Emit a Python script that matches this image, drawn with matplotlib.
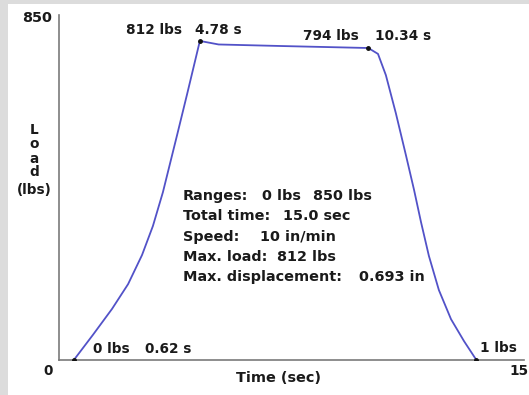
import numpy as np
import matplotlib.pyplot as plt
from matplotlib.patches import Rectangle

# load curve
time_s = [0.62, 1.25, 1.88, 2.41, 2.87, 3.23, 3.56, 4.03, 4.36, 4.78,
          5.40, 7.50, 10.34,
          10.66, 10.92, 11.25, 11.58, 11.85, 12.08, 12.34, 12.67, 13.07, 13.50, 13.90]
load_lbs = [0, 64, 130, 193, 267, 341, 427, 573, 677, 812,
            803, 799, 794,
            779, 725, 628, 522, 433, 351, 265, 178, 104, 48, 1]

key_t = [0.62, 4.78, 10.34, 13.90]
key_load = [0, 812, 794, 1]

info_labels = ["Ranges:", "Total time:", "Speed:", "Max. load:", "Max. displacement:"]
info_values = [["0 lbs", "850 lbs"], ["15.0 sec"], ["10 in/min"], ["812 lbs"], ["0.693 in"]]
info_value_x = [[262, 313], [283], [260], [277], [359]]

W, H = 529, 395
def px(x, y):
    return x / W, 1 - y / H

FONT = dict(fontsize=9.8, fontweight='bold', color='#1a1a1a', family='DejaVu Sans')
BIG = dict(FONT, fontsize=10.4)
LINE = '#5252c8'
AXC = '#7a7a7a'

fig = plt.figure(figsize=(W / 100, H / 100), dpi=100)
fig.patch.set_facecolor('#dcdcdc')
fig.patches.append(Rectangle(px(8, 395), (W - 8) / W, (395 - 4) / H,
                             transform=fig.transFigure, facecolor='white',
                             edgecolor='none', zorder=-10))

l, b = px(59, 360)
r, t = px(524, 15)
ax = fig.add_axes([l, b, r - l, t - b])
ax.set_facecolor('none')
ax.set_xlim(0.13, 15.48)
ax.set_ylim(0, 878)
for side in ['top', 'right']:
    ax.spines[side].set_visible(False)
for side in ['left', 'bottom']:
    ax.spines[side].set_color(AXC)
    ax.spines[side].set_linewidth(1.2)
ax.set_xticks([]); ax.set_yticks([])

ax.plot(time_s, load_lbs, color=LINE, lw=1.3, zorder=3)
ax.plot(key_t, key_load, 'o', color='#111111', ms=2.5, zorder=4)

# point annotations
def note(i, txt, dx, dy, ha):
    ax.annotate(txt, (key_t[i], key_load[i]), xytext=(dx, dy),
                textcoords='offset pixels', ha=ha, va='center', **FONT)

note(1, '812 lbs', -18, 11, 'right')
note(1, '4.78 s', -5, 11, 'left')
note(2, '794 lbs', -10, 12, 'right')
note(2, '10.34 s', 7, 12, 'left')
note(0, '0 lbs', 19, 11, 'left')
note(0, '0.62 s', 71, 11, 'left')
note(3, '1 lbs', 4, 12, 'left')

# info block
for k, lab in enumerate(info_labels):
    yy = 196 + k * 20.3
    fig.text(*px(183, yy), lab, ha='left', va='center', **BIG)
    for val, vx in zip(info_values[k], info_value_x[k]):
        fig.text(*px(vx, yy), val, ha='left', va='center', **BIG)

# axis end labels
fig.text(*px(37, 18), '850', ha='center', va='center', **BIG)
fig.text(*px(48, 371), '0', ha='center', va='center', **FONT)
fig.text(*px(519, 371), '15', ha='center', va='center', **FONT)
fig.text(*px(279, 378), 'Time (sec)', ha='center', va='center', **BIG)

# stacked y label
for ch, yy in zip(['L', 'o', 'a', 'd', '(lbs)'], [130, 144, 159, 172, 190]):
    fig.text(*px(34, yy), ch, ha='center', va='center', **FONT)

fig.savefig('out.png', dpi=100, facecolor=fig.get_facecolor())
